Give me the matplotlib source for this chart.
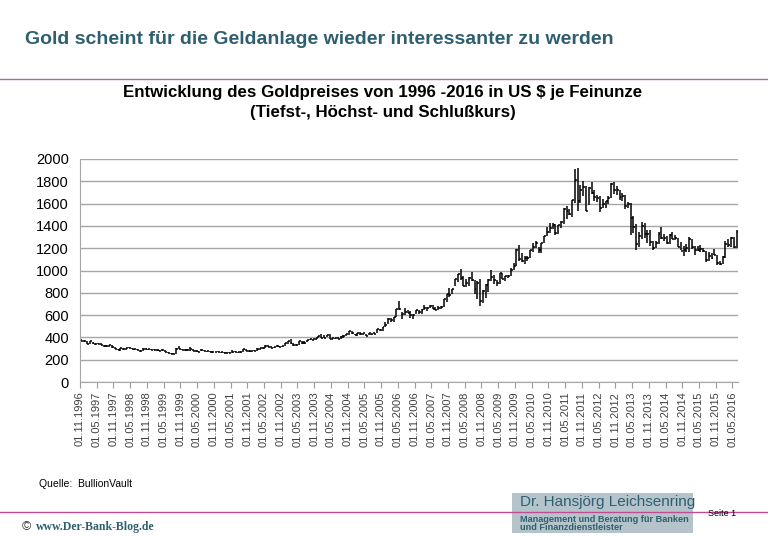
# -*- coding: utf-8 -*-
import matplotlib
matplotlib.use("Agg")
import matplotlib.pyplot as plt
from matplotlib.patches import Rectangle

plt.rcParams['font.family'] = ['Liberation Sans', 'DejaVu Sans']

# monthly gold price in US$ per ounce, Nov 1996 .. Jun 2016 (close, high, low)
close = [371, 369,
         345, 364, 349, 340, 345, 334, 326, 325, 332, 311, 296, 290,
         302, 297, 301, 309, 294, 297, 288, 274, 294, 292, 294, 288,
         287, 287, 280, 286, 268, 261, 255, 254, 299, 299, 291, 289,
         284, 292, 278, 276, 272, 288, 277, 275, 272, 265, 270, 272,
         265, 263, 258, 263, 267, 270, 267, 273, 293, 278, 275, 277,
         282, 296, 302, 308, 326, 318, 304, 312, 324, 317, 319, 347,
         367, 347, 334, 336, 364, 346, 354, 375, 388, 384, 398, 417,
         399, 396, 423, 388, 393, 395, 390, 407, 415, 428, 453, 435,
         422, 435, 427, 435, 414, 437, 429, 433, 473, 470, 495, 513,
         568, 556, 582, 654, 653, 613, 632, 623, 599, 604, 646, 632,
         650, 665, 661, 679, 659, 650, 665, 673, 743, 789, 783, 836,
         923, 971, 933, 865, 885, 930, 918, 833, 884, 730, 815, 869,
         919, 943, 916, 891, 975, 927, 954, 953, 1001, 1040, 1182, 1104,
         1081, 1116, 1113, 1180, 1208, 1245, 1181, 1246, 1307, 1347, 1385, 1405,
         1332, 1410, 1439, 1556, 1536, 1505, 1628, 1813, 1620, 1722, 1746, 1531,
         1740, 1696, 1662, 1651, 1558, 1598, 1622, 1648, 1776, 1719, 1726, 1657,
         1664, 1578, 1598, 1469, 1393, 1234, 1312, 1395, 1326, 1324, 1253, 1204,
         1251, 1326, 1291, 1288, 1251, 1322, 1282, 1287, 1211, 1172, 1183, 1199,
         1283, 1213, 1183, 1184, 1190, 1171, 1095, 1134, 1115, 1142, 1065, 1061,
         1118, 1238, 1233, 1293, 1215, 1345]
high = [384, 375,
        368, 366, 358, 350, 351, 346, 335, 332, 336, 334, 313, 298,
        307, 304, 302, 314, 304, 298, 297, 290, 301, 301, 300, 296,
        293, 292, 290, 292, 289, 267, 263, 261, 304, 326, 299, 293,
        293, 312, 296, 285, 279, 292, 291, 280, 276, 274, 272, 275,
        272, 267, 269, 265, 290, 281, 271, 279, 293, 293, 286, 279,
        285, 305, 302, 311, 330, 329, 324, 316, 331, 325, 327, 349,
        370, 388, 352, 340, 370, 372, 368, 378, 390, 389, 398, 417,
        427, 418, 426, 428, 395, 398, 407, 410, 418, 429, 455, 456,
        430, 437, 445, 437, 432, 440, 434, 447, 473, 475, 496, 537,
        570, 572, 584, 654, 730, 628, 663, 650, 636, 609, 647, 648,
        653, 690, 672, 693, 690, 673, 683, 679, 743, 789, 841, 838,
        924, 973, 1011, 951, 920, 939, 986, 914, 905, 925, 822, 880,
        927, 1005, 960, 918, 980, 980, 955, 963, 1018, 1070, 1195, 1226,
        1161, 1126, 1134, 1180, 1249, 1261, 1211, 1246, 1307, 1388, 1424, 1430,
        1421, 1411, 1447, 1557, 1577, 1553, 1632, 1913, 1920, 1770, 1804, 1761,
        1750, 1790, 1722, 1677, 1668, 1640, 1625, 1670, 1788, 1796, 1754, 1723,
        1693, 1676, 1615, 1605, 1487, 1415, 1347, 1434, 1424, 1361, 1361, 1264,
        1268, 1345, 1392, 1331, 1313, 1325, 1345, 1314, 1290, 1255, 1220, 1238,
        1303, 1284, 1220, 1224, 1232, 1205, 1172, 1168, 1157, 1191, 1142, 1088,
        1127, 1263, 1282, 1300, 1304, 1365]
low = [366, 362,
       342, 340, 344, 336, 338, 334, 314, 316, 318, 308, 294, 283,
       278, 291, 289, 301, 292, 286, 286, 272, 278, 288, 290, 287,
       285, 280, 278, 279, 268, 256, 252, 252, 255, 294, 290, 280,
       280, 281, 278, 271, 265, 280, 275, 272, 268, 264, 265, 268,
       263, 257, 257, 256, 261, 266, 264, 264, 270, 278, 272, 271,
       276, 281, 288, 300, 306, 316, 302, 302, 313, 310, 314, 319,
       341, 345, 325, 325, 335, 342, 342, 357, 375, 370, 381, 398,
       399, 392, 402, 386, 375, 387, 388, 388, 398, 410, 424, 430,
       420, 412, 425, 425, 414, 418, 418, 429, 439, 460, 456, 495,
       520, 541, 540, 582, 642, 567, 605, 615, 573, 562, 613, 612,
       608, 646, 640, 663, 653, 642, 647, 655, 672, 720, 765, 790,
       857, 898, 919, 864, 855, 862, 903, 786, 740, 681, 705, 752,
       808, 905, 880, 865, 880, 921, 905, 930, 951, 1001, 1040, 1085,
       1078, 1058, 1088, 1115, 1165, 1202, 1155, 1160, 1246, 1313, 1340, 1368,
       1319, 1330, 1381, 1418, 1462, 1496, 1478, 1602, 1535, 1602, 1667, 1531,
       1590, 1690, 1627, 1613, 1527, 1564, 1564, 1598, 1652, 1690, 1673, 1635,
       1626, 1555, 1562, 1321, 1338, 1180, 1208, 1282, 1293, 1251, 1221, 1180,
       1200, 1240, 1286, 1268, 1240, 1240, 1282, 1275, 1207, 1183, 1132, 1170,
       1168, 1191, 1143, 1175, 1170, 1163, 1077, 1084, 1103, 1137, 1053, 1046,
       1061, 1111, 1208, 1209, 1200, 1200]

# x tick labels every six months
tick_labels = []
for y in range(1996, 2017):
    for m in ("05", "11"):
        if (y == 1996 and m == "05"):
            continue
        if y == 2016 and m == "11":
            continue
        tick_labels.append("01.%s.%d" % (m, y))

teal = "#2f5f6f"
magenta = "#c04a93"

fig = plt.figure(figsize=(7.68, 5.36), dpi=100)

# page decoration
fig.text(25/768, 1-40/536, "Gold scheint für die Geldanlage wieder interessanter zu werden",
         fontsize=14, fontweight="bold", color=teal, va="center", ha="left")
fig.add_artist(plt.Line2D([0, 1], [1-79/536, 1-79/536], color="#b5649f", lw=1.0))

fig.text(0.498, 1-93/536, "Entwicklung des Goldpreises von 1996 -2016 in US $ je Feinunze",
         fontsize=12.2, fontweight="bold", ha="center", va="center")
fig.text(0.498, 1-113/536, "(Tiefst-, Höchst- und Schlußkurs)",
         fontsize=12.2, fontweight="bold", ha="center", va="center")

ax = fig.add_axes([80/768, 1-382/536, 658/768, 223/536])

x = [i + 0.5 for i in range(len(close))]
ax.vlines(x, low, high, color="black", lw=1.1)
ax.hlines(close, x, [v + 0.7 for v in x], color="black", lw=1.1)

ax.set_ylim(0, 2000)
ax.set_xlim(0, 236)
ax.set_yticks(range(0, 2001, 200))
ax.tick_params(axis="y", length=0, labelsize=10.5, pad=8)
ax.set_xticks(range(0, 6*len(tick_labels), 6))
ax.set_xticklabels(tick_labels, rotation=90, fontsize=8, color="#404040")
ax.tick_params(axis="x", length=4, color="#9a9a9a", pad=3)
ax.grid(axis="y", color="#a6a6a6", lw=1.0)
ax.set_axisbelow(True)
for s in ("top", "right"):
    ax.spines[s].set_visible(False)
ax.spines["left"].set_color("#a6a6a6")
ax.spines["bottom"].set_color("#a6a6a6")

fig.text(39/768, 1-484/536, "Quelle:  BullionVault", fontsize=7.5, va="center")

# footer
fig.add_artist(Rectangle((512/768, 3/536), 181/768, 40/536, transform=fig.transFigure,
                         facecolor="#b5c4cb", edgecolor="none"))
fig.add_artist(plt.Line2D([0, 1], [1-512/536, 1-512/536], color=magenta, lw=1.0))
fig.text(520/768, 1-502/536, "Dr. Hansjörg Leichsenring", fontsize=11, color=teal,
         va="center")
fig.text(520/768, 1-519/536, "Management und Beratung für Banken", fontsize=6.6,
         color=teal, fontweight="bold", va="center")
fig.text(520/768, 1-528/536, "und Finanzdienstleister", fontsize=6.6,
         color=teal, fontweight="bold", va="center")
fig.text(708/768, 1-514/536, "Seite 1", fontsize=6.5, va="center")
fig.text(22/768, 1-527/536, "©", fontsize=9, va="center", color="#333333")
fig.text(36/768, 1-527/536, "www.Der-Bank-Blog.de", fontsize=8.5, va="center",
         color=teal, fontweight="bold", family=["Liberation Serif", "DejaVu Serif"])

fig.savefig("out.png", dpi=100)
